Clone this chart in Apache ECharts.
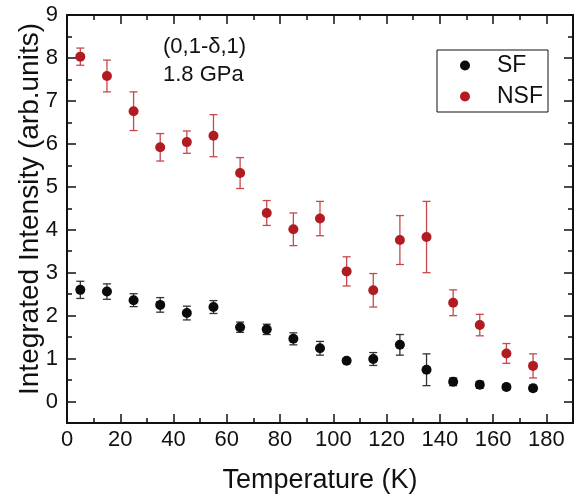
<!DOCTYPE html>
<html>
<head>
<meta charset="utf-8">
<script src="https://cdn.jsdelivr.net/npm/echarts@6/dist/echarts.min.js"></script>
<style>
  html, body { margin: 0; padding: 0; background: #fff; }
  #main { width: 585px; height: 499px; }
</style>
</head>
<body>
<div id="main"></div>
<script>
// temperature (K) of every point
var temps = [5, 15, 25, 35, 45, 55, 65, 75, 85, 95, 105, 115, 125, 135, 145, 155, 165, 175];
// spin-flip intensity and its error
var sfVals = [2.60, 2.56, 2.36, 2.25, 2.06, 2.20, 1.73, 1.68, 1.46, 1.24, 0.95, 0.99, 1.32, 0.74, 0.46, 0.39, 0.34, 0.31];
var sfErr  = [0.20, 0.18, 0.15, 0.17, 0.16, 0.15, 0.12, 0.12, 0.14, 0.16, 0.05, 0.15, 0.24, 0.37, 0.09, 0.08, 0.06, 0.07];
// non-spin-flip intensity and its error
var nsfVals = [8.03, 7.58, 6.76, 5.92, 6.04, 6.19, 5.32, 4.39, 4.01, 4.26, 3.03, 2.59, 3.76, 3.83, 2.30, 1.78, 1.12, 0.83];
var nsfErr  = [0.20, 0.37, 0.45, 0.32, 0.26, 0.49, 0.36, 0.29, 0.38, 0.40, 0.34, 0.39, 0.57, 0.83, 0.30, 0.25, 0.23, 0.28];

var font = 'Liberation Sans, Arial, sans-serif';
var ink = '#111';

function points(vals) {
  return temps.map(function (t, i) { return [t, vals[i]]; });
}
function bars(vals, errs) {
  return temps.map(function (t, i) { return [t, vals[i] - errs[i], vals[i] + errs[i]]; });
}

// vertical error bar with small caps
function errorBar(color) {
  return function (params, api) {
    var x = api.value(0);
    var top = api.coord([x, api.value(2)]);
    var bot = api.coord([x, api.value(1)]);
    var w = 4;
    var st = { stroke: color, lineWidth: 1.3 };
    return {
      type: 'group',
      children: [
        { type: 'line', shape: { x1: top[0], y1: top[1], x2: bot[0], y2: bot[1] }, style: st },
        { type: 'line', shape: { x1: top[0] - w, y1: top[1], x2: top[0] + w, y2: top[1] }, style: st },
        { type: 'line', shape: { x1: bot[0] - w, y1: bot[1], x2: bot[0] + w, y2: bot[1] }, style: st }
      ]
    };
  };
}

var lineStyle = { color: ink, width: 2 };
function xAx(pos, interval, len, labels) {
  return {
    type: 'value', position: pos, min: 0, max: 190, interval: interval,
    axisLine: { show: len < 8, onZero: false, lineStyle: lineStyle },
    axisTick: { inside: true, length: len, lineStyle: { color: ink, width: 1.5 } },
    axisLabel: labels ? {
      fontFamily: font, fontSize: 22, color: ink, margin: 6,
      formatter: function (v) { return (v % 20 === 0 && v <= 180) ? String(v) : ''; }
    } : { show: false },
    splitLine: { show: false },
    name: labels ? 'Temperature (K)' : '',
    nameLocation: 'middle', nameGap: 44, nameMoveOverlap: false,
    nameTextStyle: { fontFamily: font, fontSize: 27, color: ink }
  };
}
// minor ticks every 0.5 from -0.5; major ticks on an inverted copy so they start at 9
function yMinor(pos, labels) {
  return {
    type: 'value', position: pos, min: -0.5, max: 9, interval: 0.5,
    axisLine: { show: true, onZero: false, lineStyle: lineStyle },
    axisTick: { inside: true, length: 5, lineStyle: { color: ink, width: 1.5 } },
    axisLabel: labels ? {
      fontFamily: font, fontSize: 22, color: ink, margin: 9,
      formatter: function (v) { return Number.isInteger(v) ? String(v) : ''; }
    } : { show: false },
    splitLine: { show: false },
    name: labels ? 'Integrated Intensity (arb.units)' : '',
    nameLocation: 'middle', nameGap: 23, nameMoveOverlap: false,
    nameTextStyle: { fontFamily: font, fontSize: 28, color: ink, padding: [0, 0, 0, 20] }
  };
}
function yMajor(pos) {
  return {
    type: 'value', position: pos, min: 0, max: 9.5, interval: 1, inverse: true,
    axisLine: { show: false, onZero: false },
    axisTick: { inside: true, length: 9, lineStyle: { color: ink, width: 1.5 } },
    axisLabel: { show: false },
    splitLine: { show: false }
  };
}

var chart = echarts.init(document.getElementById('main'), null, { renderer: 'canvas' });
chart.setOption({
  backgroundColor: '#fff',
  animation: false,
  grid: { left: 67, right: 12, top: 15, bottom: 76, containLabel: false, outerBoundsMode: 'none' },
  xAxis: [
    xAx('bottom', 10, 5, true),
    xAx('bottom', 20, 9, false),
    xAx('top', 10, 5, false),
    xAx('top', 20, 9, false)
  ],
  yAxis: [
    yMinor('left', true),
    yMajor('left'),
    yMinor('right', false),
    yMajor('right')
  ],
  legend: {
    data: ['SF', 'NSF'],
    orient: 'vertical',
    left: 437, top: 50,
    padding: [4, 5, 4, 23],
    itemWidth: 10, itemHeight: 10, itemGap: 8,
    icon: 'circle',
    borderColor: ink, borderWidth: 1,
    textStyle: { fontFamily: font, fontSize: 23, color: ink, lineHeight: 22, padding: [0, 0, 0, 22] }
  },
  graphic: [
    { type: 'text', left: 163, top: 36, style: { text: '(0,1-δ,1)', font: '22px ' + font, fill: ink } },
    { type: 'text', left: 163, top: 64, style: { text: '1.8 GPa', font: '22px ' + font, fill: ink } }
  ],
  series: [
    {
      name: 'SF err', type: 'custom', renderItem: errorBar('#333'),
      data: bars(sfVals, sfErr), encode: { x: 0, y: [1, 2] }, z: 1, silent: true
    },
    {
      name: 'NSF err', type: 'custom', renderItem: errorBar('#c8474b'),
      data: bars(nsfVals, nsfErr), encode: { x: 0, y: [1, 2] }, z: 1, silent: true
    },
    {
      name: 'SF', type: 'scatter', data: points(sfVals), symbolSize: 10,
      itemStyle: { color: '#0b0b0b', opacity: 1 }, z: 3
    },
    {
      name: 'NSF', type: 'scatter', data: points(nsfVals), symbolSize: 10,
      itemStyle: { color: '#b01c22', opacity: 1 }, z: 3
    }
  ]
});
</script>
</body>
</html>
